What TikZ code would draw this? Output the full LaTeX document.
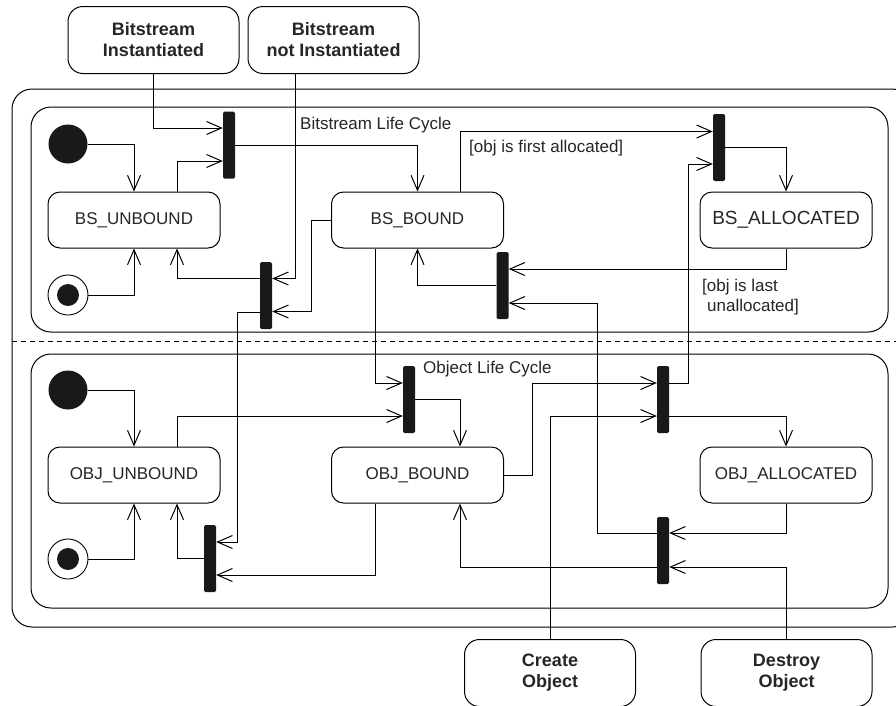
\documentclass[tikz,border=0pt]{standalone}
\usepackage{fontspec}
\setmainfont{Liberation Sans}
\usetikzlibrary{arrows.meta}

\tikzset{
  statebox/.style={draw, line width=1pt, rounded corners=12pt,
    minimum width=172pt, minimum height=56pt, inner sep=0pt,
    font=\fontsize{17}{20}\selectfont, text=black!85},
  eventbox/.style={draw, line width=1pt, rounded corners=15pt,
    minimum width=171pt, minimum height=67pt, inner sep=0pt, align=center,
    font=\fontsize{18}{21}\selectfont\bfseries, text=black!85},
  syncbar/.style={fill=black!90, minimum width=12pt, minimum height=67pt,
    inner sep=0pt, rounded corners=1.5pt},
  initdot/.style={circle, fill=black!90, minimum size=39pt, inner sep=0pt},
  finalring/.style={circle, draw, line width=0.9pt, minimum size=40pt, inner sep=0pt},
  finaldot/.style={circle, fill=black!90, minimum size=22pt, inner sep=0pt},
  region/.style={draw, line width=1pt, rounded corners=20pt},
  flow/.style={line width=1pt, -{Straight Barb[length=15pt,width=13pt]}},
  caption/.style={font=\fontsize{17}{20}\selectfont, text=black!85, inner sep=0pt, anchor=west},
}

\begin{document}
\begin{tikzpicture}[x=1pt, y=-1pt]
  \clip (0,0) rectangle (896,705);
  \fill[white] (0,0) rectangle (896,705);

  % containers
  \draw[region] (12,89) rectangle (912,627);
  \draw[region] (31,107) rectangle (888,332);
  \draw[region] (31,354) rectangle (888,608);
  \draw[line width=0.9pt, dash pattern=on 5pt off 4pt] (12,341) -- (896,341);

  % external events
  \node[eventbox] (bi)  at (153.5,40) {Bitstream\\Instantiated};
  \node[eventbox] (bni) at (333.5,40) {Bitstream\\not Instantiated};
  \node[eventbox] (co)  at (550,673) {Create\\Object};
  \node[eventbox] (do)  at (786.5,673) {Destroy\\Object};

  % bitstream states
  \node[statebox] (bsu) at (134,220) {BS\_UNBOUND};
  \node[statebox] (bsb) at (417.5,220) {BS\_BOUND};
  \node[statebox, font=\fontsize{19}{22}\selectfont] (bsa) at (786,220) {BS\_ALLOCATED};
  \node[initdot] (ini1) at (68,144) {};
  \node[finalring] (fin1) at (68,295) {};
  \node[finaldot] at (fin1) {};

  % object states
  \node[statebox] (obu) at (134,475) {OBJ\_UNBOUND};
  \node[statebox] (obb) at (417.5,475) {OBJ\_BOUND};
  \node[statebox] (oba) at (786,475) {OBJ\_ALLOCATED};
  \node[initdot] (ini2) at (68,390) {};
  \node[finalring] (fin2) at (68,559) {};
  \node[finaldot] at (fin2) {};

  % synchronisation bars
  \node[syncbar] (bar1) at (229,145) {};
  \node[syncbar] (bar2) at (266,295.5) {};
  \node[syncbar] (bar3) at (719,147.5) {};
  \node[syncbar] (bar4) at (502.5,285.5) {};
  \node[syncbar] (bar5) at (409,399.5) {};
  \node[syncbar] (bar6) at (210,558.5) {};
  \node[syncbar] (bar7) at (663,399.5) {};
  \node[syncbar] (bar8) at (663,550.5) {};

  % labels
  \node[caption] (lbs) at (300,125) {Bitstream Life Cycle};
  \node[caption] (lob) at (423,369) {Object Life Cycle};
  \node[caption] (g1) at (469,148) {[obj is first allocated]};
  \node[caption, align=left, anchor=north west] (g2) at (702,279)
    {[obj is last\\\hspace{5pt}unallocated]};

  % bitstream life cycle transitions
  \draw[flow] (bi.south) |- ([yshift=17pt]bar1.west);
  \draw[flow] ([xshift=43pt]bsu.north) |- ([yshift=-16pt]bar1.west);
  \draw[flow] (ini1.east) -| (bsu.north);
  \draw[flow] (bar1.east) -| (bsb.north);
  \draw[flow] (fin1.east) -| (bsu.south);
  \draw[flow] ([yshift=17pt]bar2.west) -| ([xshift=43pt]bsu.south);
  \draw[flow] ([xshift=-38.5pt]bni.south) |- ([yshift=17pt]bar2.east);
  \draw[flow] (bsb.west) -- ++(-20,0) |- ([yshift=-16pt]bar2.east);
  \draw[flow] ([xshift=42.5pt]bsb.north) |- ([yshift=16pt]bar3.west);
  \draw[flow] (bar3.east) -| (bsa.north);
  \draw[flow] (bsa.south) |- ([yshift=16.5pt]bar4.east);
  \draw[flow] (bar4.west) -| (bsb.south);

  % links between the two cycles
  \draw[flow] ([yshift=-16.5pt]bar2.west) -- ++(-22,0) |- ([yshift=16.5pt]bar6.east);
  \draw[flow] ([xshift=-42.5pt]bsb.south) |- ([yshift=16.5pt]bar5.west);
  \draw[flow] ([yshift=16.5pt]bar7.east) -- ++(19,0) |- ([yshift=-16.5pt]bar3.west);
  \draw[flow] ([yshift=17.5pt]bar8.west) -- ++(-59,0) |- ([yshift=-17.5pt]bar4.east);

  % object life cycle transitions
  \draw[flow] (ini2.east) -| (obu.north);
  \draw[flow] ([xshift=43pt]obu.north) |- ([yshift=-16.5pt]bar5.west);
  \draw[flow] (bar5.east) -| ([xshift=42.5pt]obb.north);
  \draw[flow] (fin2.east) -| (obu.south);
  \draw[flow] (bar6.west) -| ([xshift=43pt]obu.south);
  \draw[flow] ([xshift=-42.5pt]obb.south) |- ([yshift=-16.5pt]bar6.east);
  \draw[flow] (obb.east) -- ++(28,0) |- ([yshift=16.5pt]bar7.west);
  \draw[flow] (co.north) |- ([yshift=-16.5pt]bar7.west);
  \draw[flow] ([yshift=-16.5pt]bar7.east) -| (oba.north);
  \draw[flow] (oba.south) |- ([yshift=17.5pt]bar8.east);
  \draw[flow] (do.north) |- ([yshift=-16.5pt]bar8.east);
  \draw[flow] ([yshift=-16.5pt]bar8.west) -| ([xshift=42.5pt]obb.south);
\end{tikzpicture}
\end{document}
